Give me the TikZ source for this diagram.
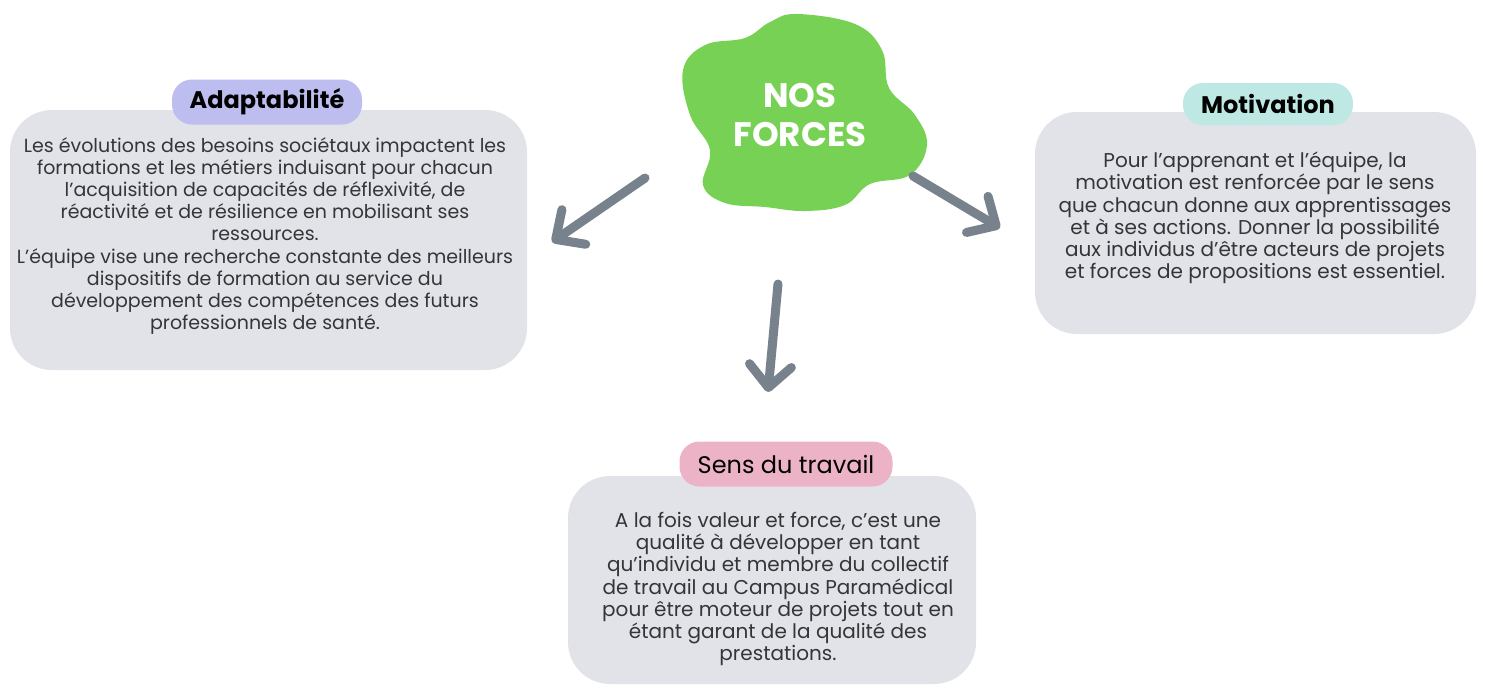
\documentclass[tikz,border=0pt]{standalone}
\usepackage{fontspec}
\setmainfont{Poppins}
\usetikzlibrary{arrows.meta}
\definecolor{boxgray}{HTML}{E1E3E8}
\definecolor{txtgray}{HTML}{353537}
\definecolor{arrgray}{HTML}{78828C}
\definecolor{blobgreen}{HTML}{77D155}
\definecolor{pillpurple}{HTML}{BDBDEF}
\definecolor{pillteal}{HTML}{BDE8E4}
\definecolor{pillpink}{HTML}{ECB3C6}
\tikzset{
  card/.style={fill=boxgray, rounded corners=42pt},
  pill/.style={rounded corners=20pt, inner sep=0pt, font=\fontsize{24}{26}\selectfont\bfseries, text=black},
  body/.style={align=center, text=txtgray, font=\fontsize{19}{22.2}\selectfont, inner sep=0pt},
  bigarrow/.style={draw=arrgray, line width=9pt, line cap=round, -{Straight Barb[length=22pt, width=42pt, line cap=round, line join=round]}},
}
\begin{document}
\begin{tikzpicture}[x=1pt,y=-1pt]
\useasboundingbox[fill=white] (0,0) rectangle (1486,689);
% cards
\fill[card] (10,110) rectangle (527,370);
\fill[card] (1035,112) rectangle (1476,334);
\fill[card] (568,476) rectangle (976,684);
% pills
\node[pill, fill=pillpurple, minimum width=190pt, minimum height=45pt] (adaptlbl) at (267,102) {Adaptabilité};
\node[pill, fill=pillteal, minimum width=170pt, minimum height=42pt] (motivlbl) at (1268,104) {Motivation};
\node[pill, fill=pillpink, minimum width=213pt, minimum height=45pt, font=\fontsize{24}{26}\selectfont] (senslbl) at (786,464) {Sens du travail};
% bodies
\node[body] (adapttxt) at (265,236) {Les évolutions des besoins sociétaux impactent les\\formations et les métiers induisant pour chacun\\l’acquisition de capacités de réflexivité, de\\réactivité et de résilience en mobilisant ses\\ressources.\\L’équipe vise une recherche constante des meilleurs\\dispositifs de formation au service du\\développement des compétences des futurs\\professionnels de santé.};
\node[body, font=\fontsize{20}{22.2}\selectfont] (motivtxt) at (1255,218) {Pour l’apprenant et l’équipe, la\\motivation est renforcée par le sens\\que chacun donne aux apprentissages\\et à ses actions. Donner la possibilité\\aux individus d’être acteurs de projets\\et forces de propositions est essentiel.};
\node[body, font=\fontsize{20}{22.2}\selectfont] (senstxt) at (778,589) {A la fois valeur et force, c’est une\\qualité à développer en tant\\qu’individu et membre du collectif\\de travail au Campus Paramédical\\pour être moteur de projets tout en\\étant garant de la qualité des\\prestations.};
% blob
\fill[blobgreen] plot[smooth cycle, tension=0.65] coordinates {(797,14) (855,24) (882,50) (889,88) (915,115) (927,145) (910,175) (870,184) (845,205) (805,211) (765,207) (725,203) (703,185) (710,150) (690,115) (683,70) (705,45) (745,38) (770,22)};
\node[font=\fontsize{34}{39}\selectfont\bfseries, text=white, align=center] (nos) at (800,115) {NOS\\FORCES};
% arrows
\coordinate (la) at (645,178); \coordinate (lb) at (552,242);
\coordinate (ma) at (778,284); \coordinate (mb) at (768,392);
\coordinate (ra) at (913,176); \coordinate (rb) at (1000,228);
\draw[bigarrow] (la) -- (lb);
\draw[bigarrow] (ma) -- (mb);
\draw[bigarrow] (ra) -- (rb);
\end{tikzpicture}
\end{document}
